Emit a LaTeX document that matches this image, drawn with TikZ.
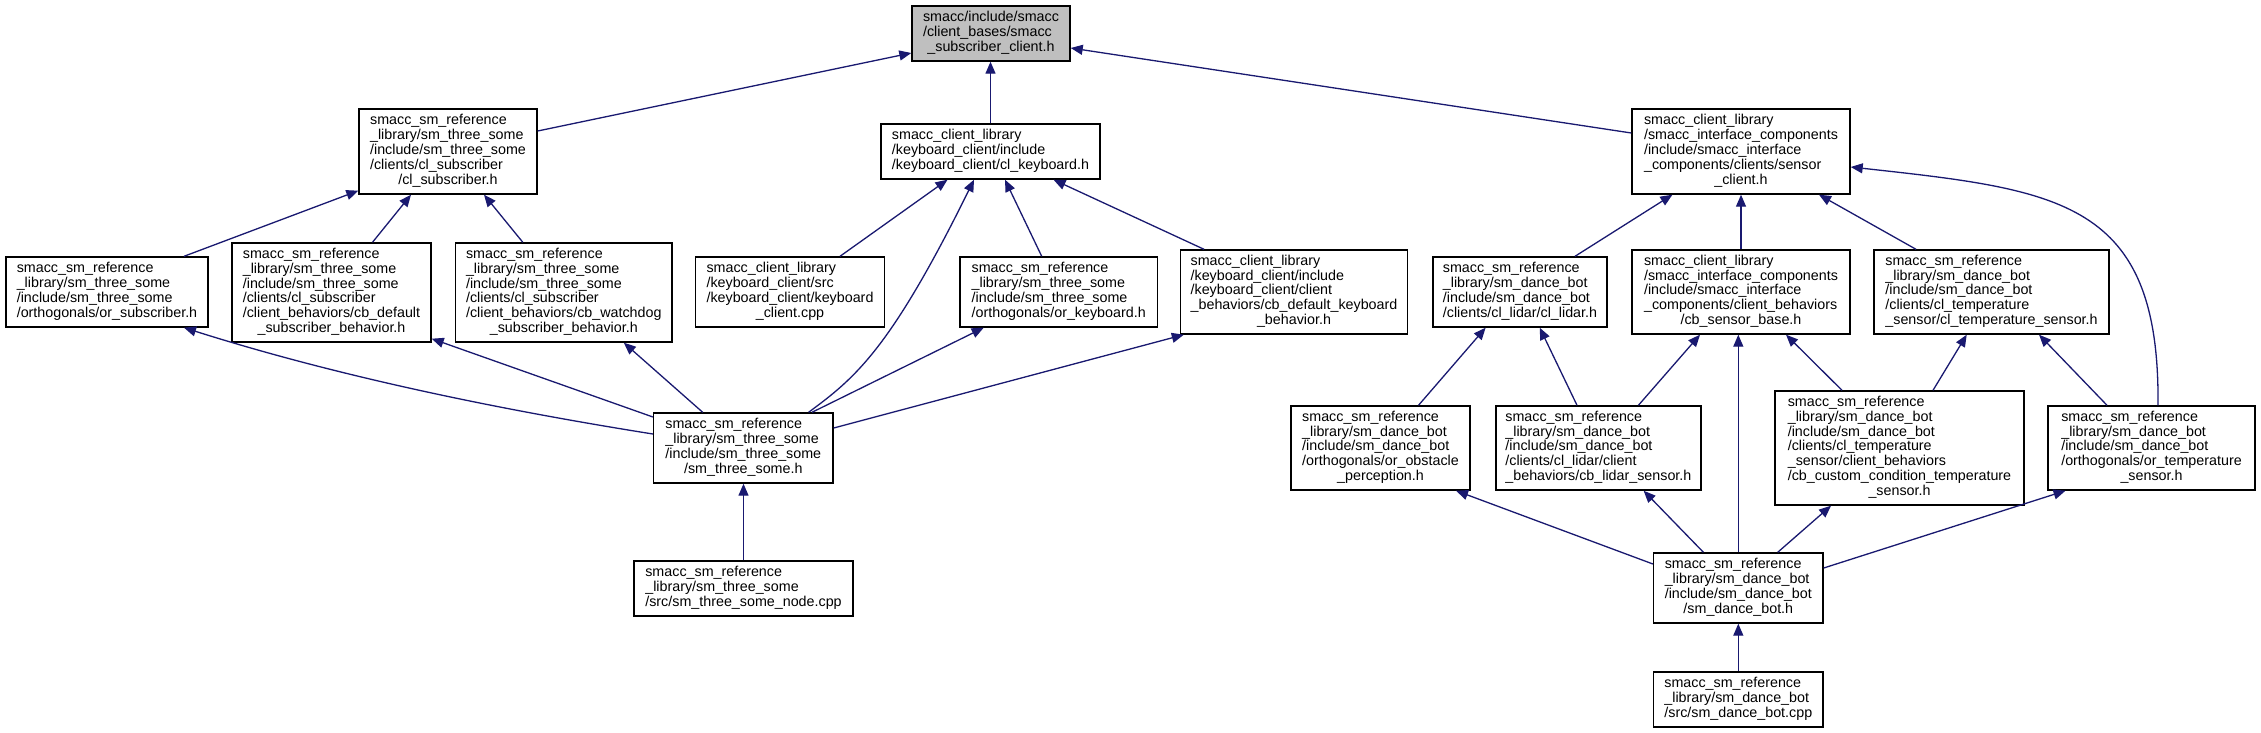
\documentclass[tikz,border=0pt]{standalone}
\usepackage{fontspec}
\setmainfont{Liberation Sans}
\usetikzlibrary{arrows.meta}
\definecolor{edgeblue}{HTML}{191970}
\definecolor{rootgray}{HTML}{BFBFBF}
\newcommand\doxlines[2]{\begin{tabular}{@{}l@{}}#1\\\multicolumn{1}{@{}c@{}}{#2}\end{tabular}}
\newcommand\doxfont{\fontsize{14.3pt}{14.7pt}\selectfont}
\begin{document}
\begin{tikzpicture}[x=1pt,y=-1pt,
  box/.style={draw=black,line width=1.4pt,fill=white,inner sep=0pt,font=\doxfont},
  sz/.style 2 args={minimum width=#1,minimum height=#2},
  edge/.style={draw=edgeblue,line width=1.3pt,-{Triangle[length=12pt,width=10pt]}}]
\useasboundingbox[fill=white] (0,0) rectangle (2261,733);

% ---- nodes ----
\node[box,fill=rootgray,sz={158pt}{55pt}] (top) at (991,33.5)
  {\doxlines{smacc/include/smacc\\/client\_bases/smacc}{\_subscriber\_client.h}};
\node[box,sz={178pt}{85pt}] (clsub) at (448,151.5)
  {\doxlines{smacc\_sm\_reference\\\_library/sm\_three\_some\\/include/sm\_three\_some\\/clients/cl\_subscriber}{/cl\_subscriber.h}};
\node[box,sz={219pt}{55pt}] (clkb) at (990.5,151.5)
  {\doxlines{smacc\_client\_library\\/keyboard\_client/include}{/keyboard\_client/cl\_keyboard.h}};
\node[box,sz={218pt}{85pt}] (sensorcl) at (1741,151.5)
  {\doxlines{smacc\_client\_library\\/smacc\_interface\_components\\/include/smacc\_interface\\\_components/clients/sensor}{\_client.h}};

\node[box,sz={202pt}{70pt}] (orsub) at (107,292)
  {\doxlines{smacc\_sm\_reference\\\_library/sm\_three\_some\\/include/sm\_three\_some}{/orthogonals/or\_subscriber.h}};
\node[box,sz={199pt}{99pt}] (cbdefsub) at (331.5,292.5)
  {\doxlines{smacc\_sm\_reference\\\_library/sm\_three\_some\\/include/sm\_three\_some\\/clients/cl\_subscriber\\/client\_behaviors/cb\_default}{\_subscriber\_behavior.h}};
\node[box,sz={216.5pt}{99pt}] (cbwatch) at (563.8,292.5)
  {\doxlines{smacc\_sm\_reference\\\_library/sm\_three\_some\\/include/sm\_three\_some\\/clients/cl\_subscriber\\/client\_behaviors/cb\_watchdog}{\_subscriber\_behavior.h}};
\node[box,sz={189pt}{70pt}] (kbcpp) at (790,292)
  {\doxlines{smacc\_client\_library\\/keyboard\_client/src\\/keyboard\_client/keyboard}{\_client.cpp}};
\node[box,sz={197.5pt}{70pt}] (orkb) at (1058.7,292)
  {\doxlines{smacc\_sm\_reference\\\_library/sm\_three\_some\\/include/sm\_three\_some}{/orthogonals/or\_keyboard.h}};
\node[box,sz={227pt}{84pt}] (cbdefkb) at (1294,292)
  {\doxlines{smacc\_client\_library\\/keyboard\_client/include\\/keyboard\_client/client\\\_behaviors/cb\_default\_keyboard}{\_behavior.h}};
\node[box,sz={174pt}{70pt}] (cllidar) at (1520,292)
  {\doxlines{smacc\_sm\_reference\\\_library/sm\_dance\_bot\\/include/sm\_dance\_bot}{/clients/cl\_lidar/cl\_lidar.h}};
\node[box,sz={218pt}{84pt}] (cbsensor) at (1741,292)
  {\doxlines{smacc\_client\_library\\/smacc\_interface\_components\\/include/smacc\_interface\\\_components/client\_behaviors}{/cb\_sensor\_base.h}};
\node[box,sz={235pt}{84pt}] (cltemp) at (1991.5,292)
  {\doxlines{smacc\_sm\_reference\\\_library/sm\_dance\_bot\\/include/sm\_dance\_bot\\/clients/cl\_temperature}{\_sensor/cl\_temperature\_sensor.h}};

\node[box,sz={179.4pt}{70pt}] (s3h) at (743.3,448)
  {\doxlines{smacc\_sm\_reference\\\_library/sm\_three\_some\\/include/sm\_three\_some}{/sm\_three\_some.h}};
\node[box,sz={179pt}{84pt}] (orobst) at (1380.5,448)
  {\doxlines{smacc\_sm\_reference\\\_library/sm\_dance\_bot\\/include/sm\_dance\_bot\\/orthogonals/or\_obstacle}{\_perception.h}};
\node[box,sz={205pt}{84pt}] (cblidar) at (1598.4,448)
  {\doxlines{smacc\_sm\_reference\\\_library/sm\_dance\_bot\\/include/sm\_dance\_bot\\/clients/cl\_lidar/client}{\_behaviors/cb\_lidar\_sensor.h}};
\node[box,sz={249pt}{114pt}] (cbcustom) at (1899.5,448)
  {\doxlines{smacc\_sm\_reference\\\_library/sm\_dance\_bot\\/include/sm\_dance\_bot\\/clients/cl\_temperature\\\_sensor/client\_behaviors\\/cb\_custom\_condition\_temperature}{\_sensor.h}};
\node[box,sz={207pt}{84pt}] (ortemp) at (2151.5,448)
  {\doxlines{smacc\_sm\_reference\\\_library/sm\_dance\_bot\\/include/sm\_dance\_bot\\/orthogonals/or\_temperature}{\_sensor.h}};

\node[box,sz={219pt}{55pt}] (s3cpp) at (743.5,588.5)
  {\doxlines{smacc\_sm\_reference\\\_library/sm\_three\_some}{/src/sm\_three\_some\_node.cpp}};
\node[box,sz={169.4pt}{70pt}] (sdbh) at (1738.3,588)
  {\doxlines{smacc\_sm\_reference\\\_library/sm\_dance\_bot\\/include/sm\_dance\_bot}{/sm\_dance\_bot.h}};
\node[box,sz={169.4pt}{55pt}] (sdbcpp) at (1738.3,699.5)
  {\doxlines{smacc\_sm\_reference\\\_library/sm\_dance\_bot}{/src/sm\_dance\_bot.cpp}};

% ---- edges (child -> included file) ----
\draw[edge] ([yshift=20.5pt]clsub.east) -- ([yshift=-19.5pt]top.west);
\draw[edge] (clkb.north) -- (clkb.north |- top.south);
\draw[edge] ([yshift=18.5pt]sensorcl.west) -- ([yshift=-14.5pt]top.east);

\draw[edge] ([xshift=77pt]orsub.north) -- ([yshift=4pt]clsub.south west);
\draw[edge] ([xshift=41pt]cbdefsub.north) -- ([xshift=-37pt]clsub.south);
\draw[edge] ([xshift=-41pt]cbwatch.north) -- ([xshift=36pt]clsub.south);

\draw[edge] ([xshift=50pt]kbcpp.north) -- ([xshift=-43pt]clkb.south);
\draw[edge] ([xshift=65.3pt]s3h.north) .. controls (855,378) and (890,350) .. ([xshift=-16.5pt]clkb.south);
\draw[edge] ([xshift=-17pt]orkb.north) -- ([xshift=14.5pt]clkb.south);
\draw[edge] ([xshift=-90pt]cbdefkb.north) -- ([xshift=63pt]clkb.south);

\draw[edge] ([yshift=14pt]s3h.west) .. controls (495.6,409) and (336.6,376) .. ([xshift=77pt]orsub.south);
\draw[edge] ([yshift=31pt]s3h.west) -- ([yshift=4pt]cbdefsub.south east);
\draw[edge] ([xshift=-40.6pt]s3h.north) -- ([xshift=60pt]cbwatch.south);
\draw[edge] ([xshift=68.7pt]s3h.north) -- ([xshift=-75pt]orkb.south);
\draw[edge] ([yshift=20pt]s3h.east) -- ([xshift=4pt]cbdefkb.south west);
\draw[edge] (s3cpp.north) -- (s3cpp.north |- s3h.south);

\draw[edge] ([xshift=55pt]cllidar.north) -- ([xshift=-68.6pt]sensorcl.south);
\draw[edge] (cbsensor.north) -- (sensorcl.south);
\draw[edge] ([xshift=-75.5pt]cltemp.north) -- ([xshift=78pt]sensorcl.south);
\draw[edge] ([xshift=6.5pt]ortemp.north) .. controls (2160,200) and (2060,190) .. ([yshift=-15.5pt]sensorcl.east);

\draw[edge] ([xshift=38pt]orobst.north) -- ([xshift=-34.4pt]cllidar.south);
\draw[edge] ([xshift=-21.4pt]cblidar.north) -- ([xshift=19.7pt]cllidar.south);
\draw[edge] ([xshift=40pt]cblidar.north) -- ([xshift=-41pt]cbsensor.south);
\draw[edge] (sdbh.north) -- (sdbh.north |- cbsensor.south);
\draw[edge] ([xshift=-57.5pt]cbcustom.north) -- ([xshift=45pt]cbsensor.south);
\draw[edge] ([xshift=33.5pt]cbcustom.north) -- ([xshift=-24.8pt]cltemp.south);
\draw[edge] ([xshift=-44.5pt]ortemp.north) -- ([xshift=47.5pt]cltemp.south);

\draw[edge] ([yshift=24pt]sdbh.west) -- ([xshift=75.5pt]orobst.south);
\draw[edge] ([xshift=-34.9pt]sdbh.north) -- ([xshift=45.2pt]cblidar.south);
\draw[edge] ([xshift=39.4pt]sdbh.north) -- ([xshift=-68.5pt]cbcustom.south);
\draw[edge] ([yshift=20pt]sdbh.east) -- ([xshift=-86pt]ortemp.south);
\draw[edge] (sdbcpp.north) -- (sdbh.south);
\end{tikzpicture}
\end{document}
